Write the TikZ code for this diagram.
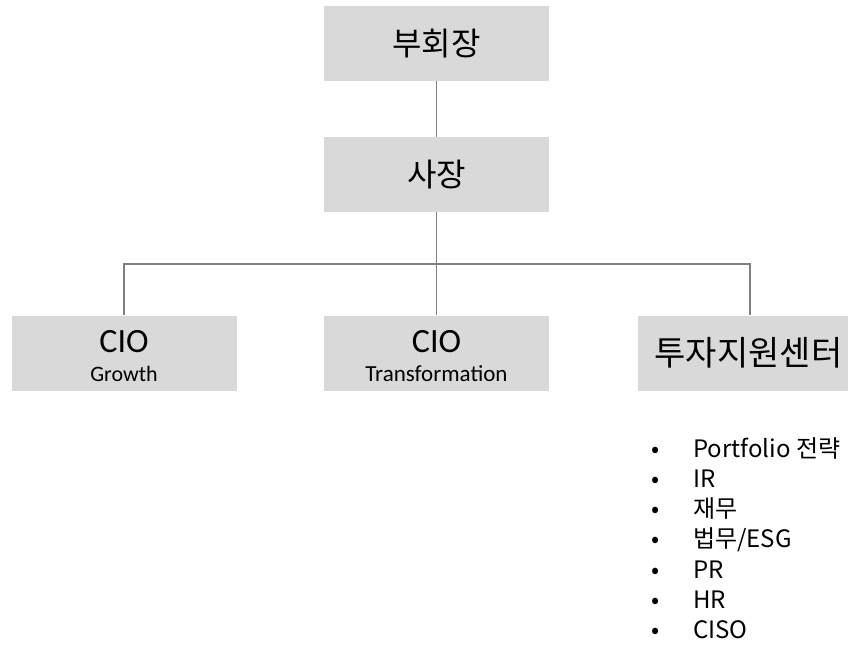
\documentclass[tikz,border=0pt]{standalone}
\usepackage{fontspec}
\setmainfont{Carlito}
\newfontfamily\kr{Noto Sans CJK KR}
\definecolor{boxgray}{HTML}{D9D9D9}
\definecolor{linegray}{HTML}{7F7F7F}
\begin{document}
\begin{tikzpicture}[x=1pt,y=-1pt,
  orgbox/.style={fill=boxgray, minimum width=225pt, minimum height=75pt, inner sep=0pt, anchor=center},
  conn/.style={draw=linegray, line width=1.2pt},
  bigkr/.style={font=\kr\fontsize{32}{32}\selectfont},
  bul/.style={anchor=base west, inner sep=0pt, font=\kr\fontsize{24}{24}\selectfont}]
\useasboundingbox (0,0) rectangle (848,648);
\clip (0,0) rectangle (848,648);
\node[orgbox] (vp) at (436.5,43.5) {};
\node[bigkr] (vpt) at (vp.center) {부회장};
\node[orgbox] (pres) at (436.5,174.5) {};
\node[bigkr] (prest) at (pres.center) {사장};
\node[orgbox] (gr) at (124,353) {};
\node[anchor=base, inner sep=0pt, font=\fontsize{34}{34}\selectfont] (grt) at (124,352) {CIO};
\node[anchor=base, inner sep=0pt, font=\fontsize{22}{22}\selectfont] (grs) at (124,381) {Growth};
\node[orgbox] (tr) at (436.5,353) {};
\node[anchor=base, inner sep=0pt, font=\fontsize{34}{34}\selectfont] (trt) at (436.5,352) {CIO};
\node[anchor=base, inner sep=0pt, font=\fontsize{23}{23}\selectfont] (trs) at (436.5,381) {Transformation};
\node[orgbox] (inv) at (750,353) {};
\node[font=\kr\fontsize{34}{34}\selectfont] (invt) at (748.5,353) {투자지원센터};
\coordinate (hub) at (436.5,264);
\draw[conn] (vp.south) -- (pres.north);
\draw[conn] (pres.south) -- (hub);
\draw[conn] (hub) -- (tr.north);
\draw[conn] (gr.north) |- (hub) -| (inv.north);
\foreach \t [count=\i from 0] in {Portfolio 전략, IR, 재무, 법무/ESG, PR, HR, CISO} {
  \node[bul] (d\i) at (651,457+30.3*\i) {•};
  \node[bul] (b\i) at (693,457+30.3*\i) {\t};
}
\end{tikzpicture}
\end{document}
